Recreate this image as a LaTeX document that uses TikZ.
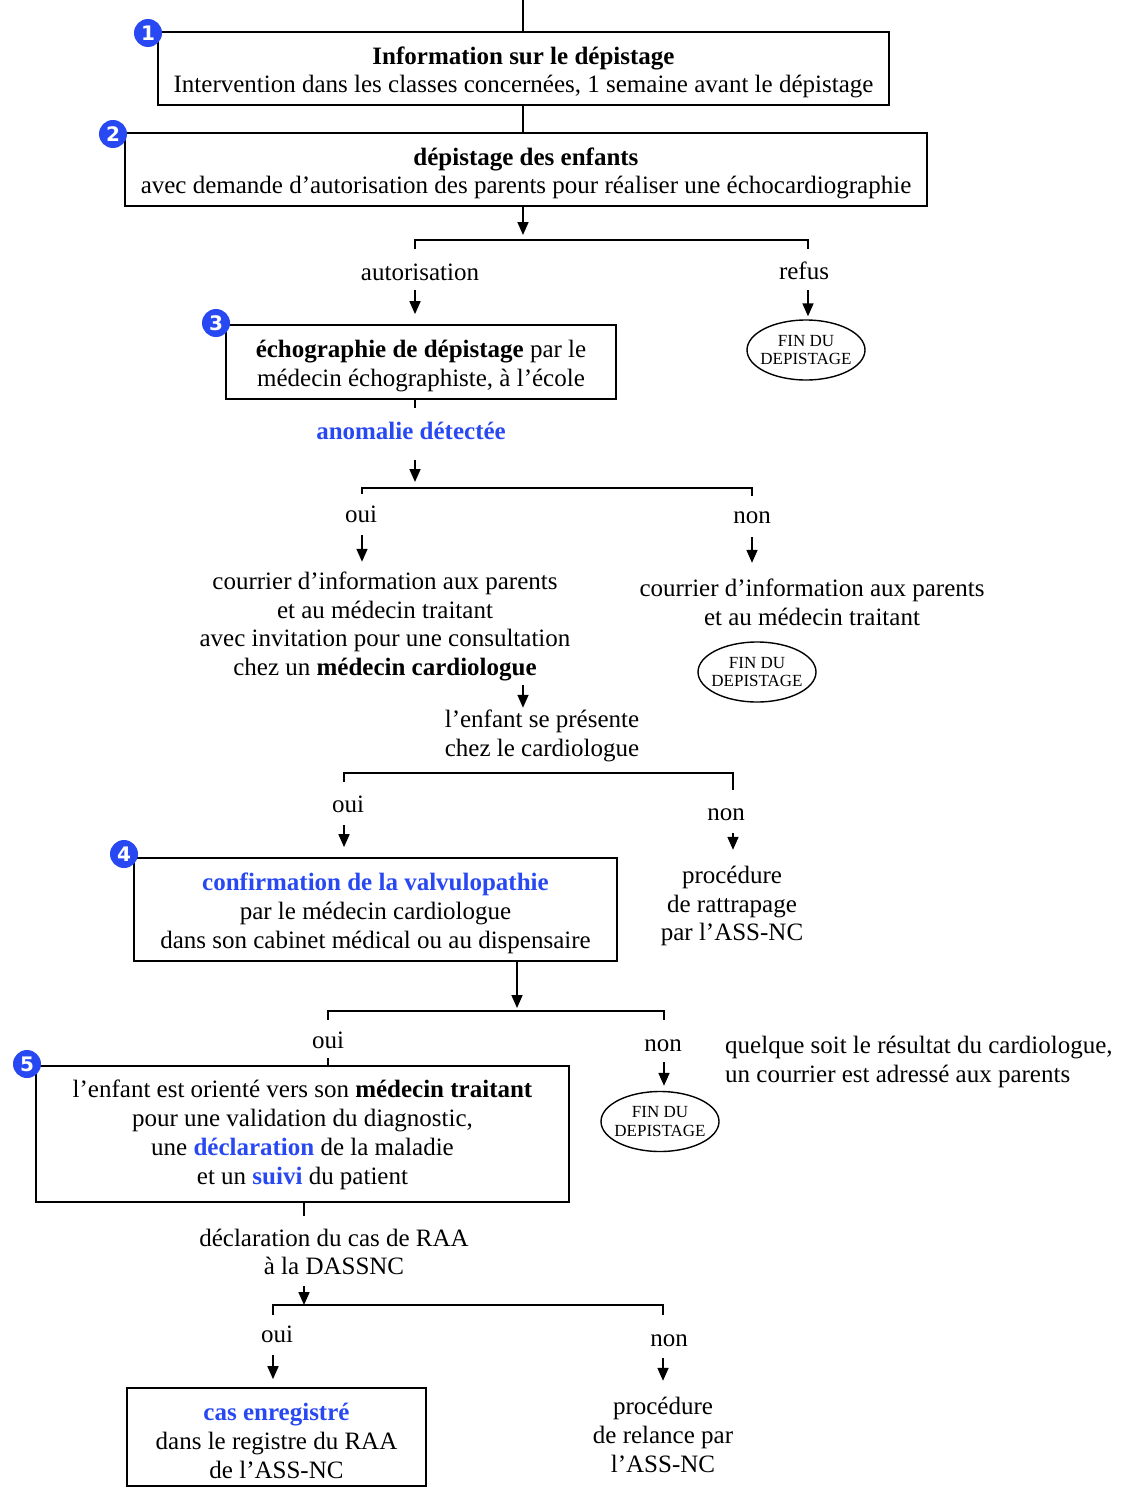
\documentclass[tikz,border=0pt]{standalone}
\usepackage{fontspec}
\setmainfont{Liberation Serif}
\newfontfamily\badgefont{DejaVu Sans}
\usetikzlibrary{shapes.geometric,arrows.meta}
\definecolor{myblue}{RGB}{40,72,242}
\newcommand\mainsz{\fontsize{25}{28.7}\selectfont}
\newcommand\bl[1]{\textcolor{myblue}{\textbf{#1}}}
\tikzset{
  box/.style={draw, line width=1.7pt, inner sep=0pt, align=center, font=\mainsz, text height=18pt, text depth=3pt},
  lbl/.style={align=center, inner sep=2pt, font=\mainsz, text height=18pt, text depth=3pt},
  two/.style={text height=51.7pt},
  three/.style={text height=80.4pt},
  four/.style={text height=109.1pt},
  ln/.style={line width=1.7pt},
  arr/.style={line width=1.7pt, -{Triangle[length=13pt,width=11pt]}},
  endnode/.style={ellipse, draw, line width=1.4pt, minimum width=118, minimum height=60, inner xsep=-5pt, inner ysep=0pt, align=center, font=\fontsize{17}{18.5}\selectfont},
  badge/.style={circle, fill=myblue, minimum size=28, inner sep=0pt, text=white, font=\badgefont\bfseries\fontsize{20}{20}\selectfont}
}
\begin{document}
\begin{tikzpicture}[x=1pt,y=-1pt]
\useasboundingbox (0,0) rectangle (1126,1496);
% boxes
\node[box, two, minimum width=731, minimum height=73] (b1) at (523.5,68.5)
  {\textbf{Information sur le dépistage}\\Intervention dans les classes concernées, 1 semaine avant le dépistage};
\node[box, two, minimum width=802, minimum height=73] (b2) at (526,169.5)
  {\textbf{dépistage des enfants}\\avec demande d’autorisation des parents pour réaliser une échocardiographie};
\node[box, two, minimum width=390, minimum height=74] (b3) at (421,362)
  {\textbf{échographie de dépistage} par le\\médecin échographiste, à l’école};
\node[box, three, minimum width=483, minimum height=103] (b4) at (375.5,909.5)
  {\bl{confirmation de la valvulopathie}\\par le médecin cardiologue\\dans son cabinet médical ou au dispensaire};
\node[box, four, minimum width=533, minimum height=136, text depth=9pt] (b5) at (302.5,1134)
  {l’enfant est orienté vers son \textbf{médecin traitant}\\pour une validation du diagnostic,\\une \bl{déclaration} de la maladie\\et un \bl{suivi} du patient};
\node[box, minimum width=299, minimum height=98, text height=85.4pt] (b6) at (276.5,1437)
  {\bl{cas enregistré}\\dans le registre du RAA\\de l’ASS-NC};
% badges
\node[badge] (n1) at (148,33) {1};
\node[badge] (n2) at (113,134) {2};
\node[badge] (n3) at (216,323) {3};
\node[badge] (n4) at (124,854) {4};
\node[badge] (n5) at (27,1064) {5};
% labels
\node[lbl] (autor) at (420,273) {autorisation};
\node[lbl] (refus) at (804,272) {refus};
\node[endnode] (fin1) at (806,350) {FIN DU\\DEPISTAGE};
\node[lbl] (anom) at (411,432) {\bl{anomalie détectée}};
\node[lbl] (oui1) at (361,515) {oui};
\node[lbl] (non1) at (752,516) {non};
\node[lbl, four] (txtL) at (385,622.5) {courrier d’information aux parents\\et au médecin traitant\\avec invitation pour une consultation\\chez un \textbf{médecin cardiologue}};
\node[lbl, two] (txtR) at (812,601) {courrier d’information aux parents\\et au médecin traitant};
\node[endnode] (fin2) at (757,672) {FIN DU\\DEPISTAGE};
\node[lbl, two] (pres) at (542,732) {l’enfant se présente\\chez le cardiologue};
\node[lbl] (oui2) at (348,805) {oui};
\node[lbl] (non2) at (726,813) {non};
\node[lbl, three] (proc1) at (732,902) {procédure\\de rattrapage\\par l’ASS-NC};
\node[lbl] (oui3) at (328,1041) {oui};
\node[lbl] (non3) at (663,1044) {non};
\node[endnode] (fin3) at (660,1121.5) {FIN DU\\DEPISTAGE};
\node[lbl, two, align=left, anchor=west] (note) at (723,1058) {quelque soit le résultat du cardiologue,\\un courrier est adressé aux parents};
\node[lbl, two] (decl) at (334,1250.5) {déclaration du cas de RAA\\à la DASSNC};
\node[lbl] (oui4) at (277,1335) {oui};
\node[lbl] (non4) at (669,1339) {non};
\node[lbl, three] (proc2) at (663,1433.5) {procédure\\de relance par\\l’ASS-NC};
% branch coordinates
\coordinate (t0) at (523,0);
\coordinate (br1L) at (415,240); \coordinate (br1R) at (808,240);
\coordinate (br2L) at (362,488); \coordinate (br2R) at (752,488);
\coordinate (br3L) at (344,773); \coordinate (br3R) at (733,773);
\coordinate (br4L) at (328,1011); \coordinate (br4R) at (664,1011); \coordinate (br4M) at (517,1011);
\coordinate (br5L) at (273,1305); \coordinate (br5R) at (663,1305); \coordinate (br5M) at (304,1305);
\coordinate (p1) at (523,697);
% connectors
\draw[ln] (t0) -- (t0 |- b1.north);
\draw[ln] (b1.south -| t0) -- (b2.north -| t0);
\draw[arr] (b2.south -| t0) -- ([yshift=5pt]br1L -| t0);
\draw[ln] ([yshift=-9pt]br1L) -- (br1L) -- (br1R) -- ([yshift=-9pt]br1R);
\draw[arr, shorten <=4.5pt, shorten >=10pt] (autor.south -| br1L) -- (b3.north -| br1L);
\draw[arr, shorten <=5.5pt, shorten >=3pt] (refus.south -| br1R) -- (fin1.north -| br1R);
\draw[ln] (b3.south -| br1L) -- ++(0,8);
\draw[arr, shorten <=15.5pt] (anom.south -| br1L) -- ([yshift=6pt]br1L |- br2L);
\draw[ln] ([yshift=-6pt]br2L) -- (br2L) -- (br2R) -- ([yshift=-8pt]br2R);
\draw[arr, shorten <=7.5pt, shorten >=2.5pt] (oui1.south -| br2L) -- (txtL.north -| br2L);
\draw[arr, shorten <=8.5pt, shorten >=8.6pt] (non1.south -| br2R) -- (txtR.north -| br2R);
\draw[arr, shorten <=4.5pt, shorten >=-5.3pt] (txtL.south -| p1) -- (pres.north -| p1);
\draw[ln] ([yshift=-9pt]br3L) -- (br3L) -- (br3R) -- ([yshift=-17pt]br3R);
\draw[arr, shorten <=7.5pt, shorten >=10pt] (oui2.south -| br3L) -- (b4.north -| br3L);
\draw[arr, shorten <=7.5pt, shorten >=8.3pt] (non2.south -| br3R) -- (proc1.north -| br3R);
\draw[arr] (b4.south -| br4M) -- ([yshift=3pt]br4M);
\draw[ln] ([yshift=-9pt]br4L) -- (br4L) -- (br4R) -- ([yshift=-9pt]br4R);
\draw[ln, shorten <=4.5pt] (oui3.south -| br4L) -- (b5.north -| br4L);
\draw[arr, shorten <=5.5pt, shorten >=5pt] (non3.south -| br4R) -- (fin3.north -| br4R);
\draw[ln] (b5.south -| br5M) -- ++(0,13);
\draw[arr, shorten <=6.2pt] (decl.south -| br5M) -- (br5M);
\draw[ln] ([yshift=-10pt]br5L) -- (br5L) -- (br5R) -- ([yshift=-10pt]br5R);
\draw[arr, shorten <=7.5pt, shorten >=8pt] (oui4.south -| br5L) -- (b6.north -| br5L);
\draw[arr, shorten <=6.5pt, shorten >=8.8pt] (non4.south -| br5R) -- (proc2.north -| br5R);
\end{tikzpicture}
\end{document}
